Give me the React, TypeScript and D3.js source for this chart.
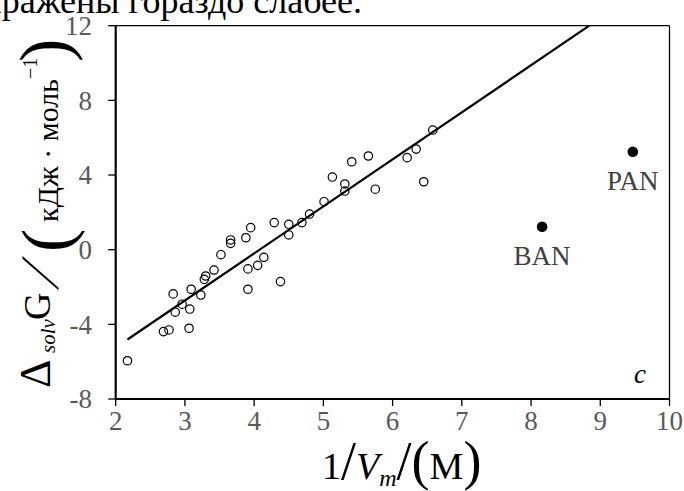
import React from "react";
import * as d3 from "d3";

const openX = [2.17, 2.69, 2.77, 3.06, 2.86, 2.96, 3.07, 2.83, 3.09, 3.23, 3.28, 3.30, 3.42, 3.52, 3.66, 3.66, 3.88, 3.95, 3.91, 4.05, 4.14, 4.38, 3.91, 4.29, 4.50, 4.50, 4.69, 4.80, 5.01, 5.13, 5.31, 5.31, 5.41, 5.65, 5.75, 6.21, 6.34, 6.45, 6.58];
const openY = [-5.95, -4.39, -4.30, -4.21, -3.35, -2.92, -3.18, -2.37, -2.12, -2.43, -1.59, -1.41, -1.09, -0.27, 0.52, 0.34, 0.64, 1.18, -1.03, -0.84, -0.41, -1.71, -2.12, 1.45, 1.36, 0.79, 1.45, 1.91, 2.57, 3.89, 3.52, 3.14, 4.71, 5.02, 3.24, 4.93, 5.39, 3.64, 6.41];
const filledNames = ["BAN", "PAN"];
const filledX = [8.16, 9.47];
const filledY = [1.23, 5.25];
const fitSlope = 2.52;
const fitIntercept = -10.28;
const xTicks = [2, 3, 4, 5, 6, 7, 8, 9, 10];
const yTicks = [-8, -4, 0, 4, 8, 12];

const FONT = "'Liberation Serif', 'Times New Roman', serif";

export default function App() {
  const W = 684, H = 491;
  const x = d3.scaleLinear().domain([2, 10]).range([115.7, 669.5]);
  const y = d3.scaleLinear().domain([-8, 12]).range([399, 25.7]);
  const xStart = d3.min(openX) as number;
  const xEnd = (12 - fitIntercept) / fitSlope;
  const line = d3.line<number>().x((d) => x(d)).y((d) => y(fitSlope * d + fitIntercept));

  return (
    <svg width={W} height={H} style={{ position: "absolute", left: 0, top: 0, background: "#fff" }} fontFamily={FONT}>
      <text x={362} y={13} fontSize={36} textAnchor="end" fill="#000">выражены гораздо слабее.</text>
      {/* frame */}
      <line x1={x(2)} x2={x(10)} y1={y(12)} y2={y(12)} stroke="#000" strokeWidth={1.3} />
      <line x1={x(10)} x2={x(10)} y1={y(12)} y2={y(-8)} stroke="#000" strokeWidth={1.3} />
      <line x1={x(2)} x2={x(2)} y1={y(12)} y2={y(-8)} stroke="#000" strokeWidth={2.2} />
      <line x1={x(2)} x2={x(10)} y1={y(-8)} y2={y(-8)} stroke="#000" strokeWidth={2} />
      {yTicks.map((t) => (
        <g key={"y" + t}>
          <line x1={x(2) - 7.5} x2={x(2)} y1={y(t)} y2={y(t)} stroke="#000" strokeWidth={1.3} />
          <text x={92} y={y(t)} dy="0.35em" fontSize={27} textAnchor="end" fill="#595959">{t}</text>
        </g>
      ))}
      {xTicks.map((t) => (
        <g key={"x" + t}>
          <line x1={x(t)} x2={x(t)} y1={y(-8)} y2={y(-8) + 7} stroke="#000" strokeWidth={1.3} />
          <text x={x(t)} y={430} fontSize={27} textAnchor="middle" fill="#595959">{t}</text>
        </g>
      ))}
      <path d={line([xStart, xEnd]) || ""} stroke="#000" strokeWidth={2.2} fill="none" />
      {openX.map((v, i) => (
        <circle key={"o" + i} cx={x(v)} cy={y(openY[i])} r={4.2} fill="none" stroke="#000" strokeWidth={1.2} />
      ))}
      {filledX.map((v, i) => (
        <g key={"f" + i}>
          <circle cx={x(v)} cy={y(filledY[i])} r={5.3} fill="#000" />
          <text x={x(v)} y={y(filledY[i]) + 38} fontSize={27} textAnchor="middle" fill="#404040">{filledNames[i]}</text>
        </g>
      ))}
      <text x={640} y={383} fontSize={27} fontStyle="italic" textAnchor="middle" fill="#000">c</text>
      {/* x axis title */}
      <text x={322} y={479} fontSize={38} fill="#000">
        <tspan>1</tspan>
        <tspan fontSize={54}>/</tspan>
        <tspan fontStyle="italic">V</tspan>
        <tspan fontStyle="italic" fontSize={24} dy={7}>m</tspan>
        <tspan fontSize={54} dy={-7}>/</tspan>
        <tspan fontSize={54}>(</tspan>
        <tspan>M</tspan>
        <tspan fontSize={54}>)</tspan>
      </text>
      {/* y axis title */}
      <g transform="translate(50,388) rotate(-90)">
        <text fontSize={40} fill="#000">
          <tspan x={0} y={0} fontSize={44}>Δ</tspan>
          <tspan x={35} y={5} fontStyle="italic" fontSize={21}>solv</tspan>
          <tspan x={68} y={0} fontSize={38}>G</tspan>
          <tspan x={136} y={20} fontSize={70}>(</tspan>
          <tspan x={166} y={8} fontSize={30}>кДж · моль</tspan>
          <tspan x={309} y={-13} fontSize={20}>−1</tspan>
          <tspan x={326} y={18} fontSize={70}>)</tspan>
        </text>
        <text transform="translate(98,8) skewX(-28)" fontSize={54} fill="#000">/</text>
      </g>
    </svg>
  );
}
